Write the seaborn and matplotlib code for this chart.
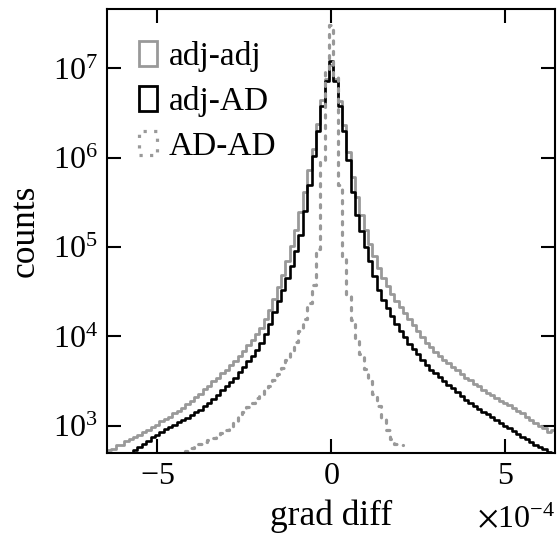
import numpy as np
import matplotlib
matplotlib.use("Agg")
import matplotlib.pyplot as plt
from matplotlib.patches import Patch
from matplotlib.ticker import NullLocator
import seaborn as sns

# histogram bins, units of 1e-4
bin_width = 0.125
full_centres = np.arange(-52, 53) * bin_width      # -6.5 ... 6.5
ad_centres = np.arange(-36, 17) * bin_width        # -4.5 ... 2.0

# log10(counts) per bin
adj_adj_log = [
    2.70, 2.73, 2.74, 2.78, 2.79, 2.83, 2.85, 2.88, 2.90, 2.93,
    2.95, 2.99, 3.01, 3.05, 3.08, 3.10, 3.14, 3.17, 3.20, 3.24,
    3.28, 3.32, 3.36, 3.41, 3.45, 3.50, 3.54, 3.59, 3.63, 3.68,
    3.73, 3.78, 3.84, 3.90, 3.96, 4.03, 4.10, 4.20, 4.30, 4.42,
    4.55, 4.69, 4.84, 5.01, 5.19, 5.39, 5.62, 5.86, 6.10, 6.38,
    6.65, 6.88, 7.04,
    6.88, 6.64, 6.37, 6.07, 5.79, 5.56, 5.36, 5.19, 5.04, 4.90,
    4.77, 4.66, 4.56, 4.48, 4.40, 4.33, 4.26, 4.19, 4.13, 4.06,
    3.99, 3.93, 3.88, 3.83, 3.78, 3.74, 3.70, 3.66, 3.62, 3.58,
    3.54, 3.51, 3.47, 3.44, 3.40, 3.37, 3.34, 3.31, 3.28, 3.26,
    3.23, 3.20, 3.17, 3.14, 3.10, 3.07, 3.03, 3.00, 2.97, 2.93,
    2.95, 2.92,
]
adj_ad_log = [
    2.55, 2.58, 2.60, 2.62, 2.64, 2.67, 2.69, 2.73, 2.76, 2.80,
    2.83, 2.87, 2.90, 2.93, 2.96, 2.99, 3.01, 3.04, 3.07, 3.09,
    3.12, 3.15, 3.18, 3.22, 3.26, 3.30, 3.35, 3.40, 3.44, 3.49,
    3.54, 3.60, 3.66, 3.72, 3.78, 3.85, 3.93, 4.03, 4.14, 4.27,
    4.40, 4.52, 4.65, 4.79, 4.96, 5.14, 5.40, 5.70, 6.02, 6.30,
    6.58, 6.86, 7.08,
    6.86, 6.58, 6.30, 5.98, 5.62, 5.36, 5.18, 5.00, 4.84, 4.68,
    4.52, 4.41, 4.32, 4.23, 4.14, 4.06, 3.99, 3.92, 3.86, 3.80,
    3.74, 3.68, 3.63, 3.59, 3.55, 3.50, 3.46, 3.42, 3.38, 3.33,
    3.29, 3.25, 3.22, 3.19, 3.16, 3.13, 3.10, 3.06, 3.03, 3.00,
    2.97, 2.94, 2.91, 2.88, 2.85, 2.82, 2.79, 2.76, 2.74, 2.71,
    2.68, 2.65,
]
ad_ad_log = [
    2.62, 2.66, 2.69, 2.72, 2.75, 2.77, 2.80, 2.82, 2.84, 2.86,
    2.89, 2.92, 2.95, 2.99, 3.04, 3.10, 3.16, 3.21, 3.26, 3.31,
    3.36, 3.40, 3.45, 3.51, 3.58, 3.65, 3.74, 3.83, 3.94, 4.06,
    4.20, 4.38, 4.58, 4.98, 5.95, 6.98, 7.49,
    6.90, 5.70, 4.90, 4.45, 4.18, 3.97, 3.80, 3.64, 3.50, 3.36,
    3.22, 3.09, 2.95, 2.85, 2.80, 2.78,
]

labels = ["adj-adj", "adj-AD", "AD-AD"]

GREY = "#999999"
FS_TICK = 23
FS_LABEL = 25.5


def draw_hist(ax, centres, logc, **kws):
    x = centres * 1e-4
    w = bin_width * 1e-4
    sns.histplot(x=x, weights=10 ** np.asarray(logc), bins=len(x),
                 binrange=(x[0] - w / 2, x[-1] + w / 2),
                 element="step", fill=False, ax=ax, **kws)


def main():
    sns.set_theme(style="ticks")
    plt.rcParams["font.family"] = ["Liberation Serif", "DejaVu Serif"]
    plt.rcParams["mathtext.fontset"] = "stix"
    plt.rcParams["axes.linewidth"] = 1.5
    plt.rcParams["text.color"] = "black"
    plt.rcParams["axes.labelcolor"] = "black"

    fig = plt.figure(figsize=(5.57, 5.40), dpi=100)
    ax = fig.add_axes([0.1926, 0.1617, 0.8038, 0.8211])
    ax.set_yscale("log")

    draw_hist(ax, full_centres, adj_adj_log, color=GREY, linewidth=2.0)
    draw_hist(ax, full_centres, adj_ad_log, color="black", linewidth=1.9)
    draw_hist(ax, ad_centres, ad_ad_log, color=GREY, linewidth=2.3,
              linestyle=(0, (1.0, 2.3)), dash_capstyle="round")

    ax.set_xlim(-6.43e-4, 6.43e-4)
    ax.set_ylim(500, 4.6e7)
    ax.set_xticks([-5e-4, 0, 5e-4])
    ax.ticklabel_format(axis="x", style="sci", scilimits=(0, 0), useMathText=True)
    ax.yaxis.set_minor_locator(NullLocator())
    ax.xaxis.set_minor_locator(NullLocator())
    ax.tick_params(which="major", direction="in", length=10, width=1.5,
                   top=True, right=True, labelsize=FS_TICK, pad=7, colors="black")
    # the x10^-4 multiplier sits level with the axis label in the original
    ax.xaxis.get_offset_text().set_visible(False)
    ax.text(1.0, -0.167, r"$\times\mathdefault{10^{-4}}$", transform=ax.transAxes,
            ha="right", va="baseline", fontsize=FS_TICK)

    ax.set_xlabel("grad diff", fontsize=FS_LABEL, labelpad=6)
    ax.set_ylabel("counts", fontsize=FS_LABEL, labelpad=8)
    for s in ax.spines.values():
        s.set_color("black")

    handles = [
        Patch(facecolor="none", edgecolor=GREY, linewidth=2.0, label=labels[0]),
        Patch(facecolor="none", edgecolor="black", linewidth=2.0, label=labels[1]),
        Patch(facecolor="none", edgecolor=GREY, linewidth=2.3,
              linestyle=(0, (1.0, 2.3)), capstyle="round", label=labels[2]),
    ]
    ax.legend(handles=handles, loc="upper left", frameon=False, fontsize=24,
              handlelength=0.55, handleheight=0.75, handletextpad=0.35,
              labelspacing=0.42, borderaxespad=0.5, borderpad=0.45)

    fig.savefig("out.png", dpi=100)
    plt.close(fig)


if __name__ == "__main__":
    main()
